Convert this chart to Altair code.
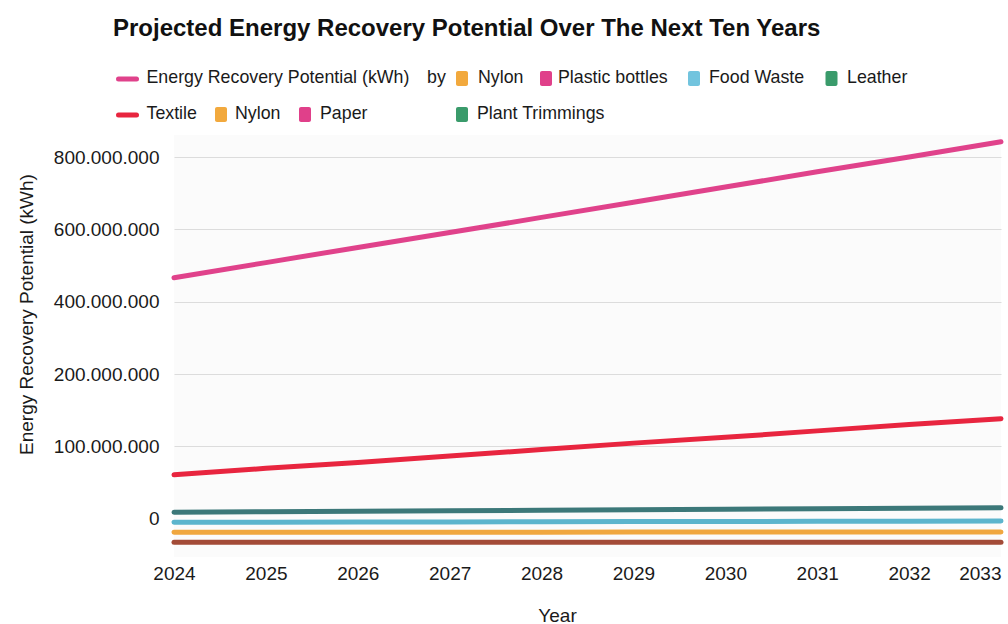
import altair as alt
import pandas as pd

# ---- data -------------------------------------------------------------
years = [2024, 2025, 2026, 2027, 2028, 2029, 2030, 2031, 2032, 2033]

series_names = ["Paper", "Textile", "Leather", "Food Waste", "Nylon", "Plant Trimmings"]
series_colors = ["#e0428b", "#e8253f", "#3c7879", "#5cb5cd", "#f0a73f", "#a34b37"]

# energy recovery potential, kWh
paper = [466e6, 508e6, 550e6, 591e6, 633e6, 675e6, 717e6, 759e6, 800e6, 842e6]
textile = [60e6, 69e6, 77e6, 86e6, 95e6, 104e6, 112e6, 121e6, 130e6, 138e6]
leather = [7.9e6, 8.6e6, 9.3e6, 10.0e6, 10.7e6, 11.4e6, 12.1e6, 12.8e6, 13.5e6, 14.3e6]
food_waste = [-6.0e6, -5.8e6, -5.6e6, -5.4e6, -5.2e6, -5.0e6, -4.8e6, -4.6e6, -4.4e6, -4.2e6]
nylon = [-19.9e6, -19.8e6, -19.8e6, -19.7e6, -19.7e6, -19.6e6, -19.6e6, -19.5e6, -19.5e6, -19.4e6]
plant_trimmings = [-33.7e6, -33.7e6, -33.7e6, -33.7e6, -33.7e6, -33.7e6, -33.7e6, -33.7e6, -33.7e6, -33.7e6]

y_ticks = [0, 100e6, 200e6, 400e6, 600e6, 800e6]

# legend entries (two rows)
legend_labels = ["Energy Recovery Potential (kWh)", "by", "Nylon", "Plastic bottles",
                 "Food Waste", "Leather", "Textile", "Nylon", "Paper", "Plant Trimmings"]
legend_symbols = ["line", "", "box", "box", "box", "box", "line", "box", "box", "box"]
legend_colors = ["#e0428b", "", "#f2a93d", "#e0408a", "#72c4de", "#3a9b6b",
                 "#e8253f", "#f2a93d", "#e0408a", "#3a9b6b"]
legend_row = [0, 0, 0, 0, 0, 0, 1, 1, 1, 1]

# ---- layout -----------------------------------------------------------
OX, OY = 174, 135          # plot origin on the page
W, H = 827, 422            # plot size
ROW_Y = [78, 114]          # legend row centres on the page
SYM_X = [127.5, None, 462, 546, 694, 831.5, 127.5, 221, 305, 462]
TXT_X = [146.5, 427, 478, 558, 709, 847, 146.5, 235, 320, 477]

FONT = "Liberation Sans"
INK = "#1a1a1a"

rows = []
for name, vals in zip(series_names, [paper, textile, leather, food_waste, nylon, plant_trimmings]):
    for yr, v in zip(years, vals):
        rows.append({"year": yr, "series": name, "kwh": v})
df = pd.DataFrame(rows)

# piecewise y scale: the band below 200M is stretched twice as much as above it
y_scale = alt.Scale(domain=[-55e6, 200e6, 860e6], range=[422.6, 239, 0.3], nice=False, zero=False)

lines = alt.Chart(df).mark_line(strokeWidth=5, strokeCap="round", strokeJoin="round").encode(
    x=alt.X(
        "year:Q",
        scale=alt.Scale(domain=[2024, 2033], nice=False, zero=False),
        axis=alt.Axis(
            values=years, format="d", title="Year", grid=False, ticks=False, domain=False,
            labelFontSize=19, labelColor=INK, labelPadding=7,
            labelAlign={"condition": {"test": "datum.value === 2033", "value": "right"}, "value": "center"},
            titleFontSize=19, titleFontWeight="normal", titleColor=INK,
            titleX=383, titleY=58, titleBaseline="middle", titleAlign="center",
        ),
    ),
    y=alt.Y(
        "kwh:Q",
        scale=y_scale,
        axis=alt.Axis(
            values=y_ticks, labelExpr="join(split(format(datum.value, ','), ','), '.')",
            ticks=False, domain=False, labelFontSize=19, labelColor=INK, labelPadding=15,
            gridColor="#dcdcdc", gridWidth=1,
            gridOpacity={"condition": {"test": "datum.value === 0", "value": 0}, "value": 1},
            title="Energy Recovery Potential (kWh)", titleFontSize=19, titleFontWeight="normal",
            titleColor=INK, titleAngle=270, titleX=26 - OX, titleY=314 - OY,
            titleBaseline="middle", titleAlign="center",
        ),
    ),
    color=alt.Color("series:N", scale=alt.Scale(domain=series_names, range=series_colors), legend=None),
    order=alt.Order("year:Q"),
)

# ---- hand-built legend ------------------------------------------------
txt_rows, box_rows, line_rows = [], [], []
for i, label in enumerate(legend_labels):
    cy = ROW_Y[legend_row[i]] - OY
    txt_rows.append({"label": label, "tx": TXT_X[i] - OX, "ty": cy})
    if legend_symbols[i] == "box":
        cx = SYM_X[i] - OX
        box_rows.append({"color": legend_colors[i], "x0": cx - 6, "x1": cx + 6,
                         "y0": cy - 7.5 + 0.5, "y1": cy + 7.5 + 0.5})
    elif legend_symbols[i] == "line":
        cx = SYM_X[i] - OX
        line_rows.append({"color": legend_colors[i], "x0": cx - 9, "x1": cx + 9, "y": cy + 1})

legend_text = alt.Chart(pd.DataFrame(txt_rows)).mark_text(
    align="left", baseline="middle", fontSize=17.8, color=INK, font=FONT
).encode(
    x=alt.X("tx:Q", scale=None, axis=None),
    y=alt.Y("ty:Q", scale=None, axis=None),
    text="label:N",
)

legend_boxes = alt.Chart(pd.DataFrame(box_rows)).mark_rect(cornerRadius=2).encode(
    x=alt.X("x0:Q", scale=None, axis=None), x2="x1:Q",
    y=alt.Y("y0:Q", scale=None, axis=None), y2="y1:Q",
    color=alt.Color("color:N", scale=None),
)

legend_lines = alt.Chart(pd.DataFrame(line_rows)).mark_rule(strokeWidth=5, strokeCap="round").encode(
    x=alt.X("x0:Q", scale=None, axis=None), x2="x1:Q",
    y=alt.Y("y:Q", scale=None, axis=None),
    color=alt.Color("color:N", scale=None),
)

chart = alt.layer(lines, legend_lines, legend_boxes, legend_text).resolve_scale(
    x="independent", y="independent", color="independent"
).properties(
    width=W,
    height=H,
    title=alt.Title(
        "Projected Energy Recovery Potential Over The Next Ten Years",
        anchor="start", fontSize=24, fontWeight="bold", color="#111111", font=FONT,
        dx=113 - OX, dy=-24, frame="group",
    ),
    autosize=alt.AutoSizeParams(type="none"),
    padding={"left": OX, "top": OY, "right": 1008 - OX - W, "bottom": 624 - OY - H},
).configure(
    font=FONT, background="#ffffff"
).configure_view(
    fill="#fbfbfb", stroke=None
)

chart.save("out.html", embed_options={"renderer": "svg", "actions": False})
